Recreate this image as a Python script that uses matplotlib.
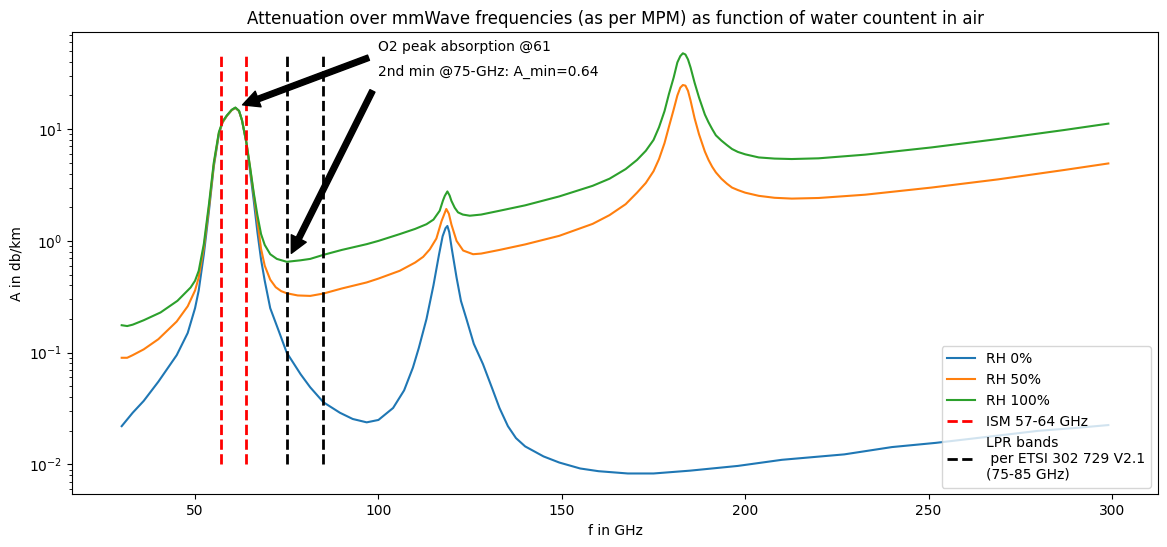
import matplotlib
matplotlib.use("Agg")
import matplotlib.pyplot as plt

# ---- data ----
f_rh0 = [30, 33, 36, 40, 45, 48, 50, 51, 52.4, 53.8, 55.1, 56.5, 57.5, 58.7, 60, 61, 62, 62.8,
         64, 65, 66, 67, 68, 69, 70.5, 72.8, 75, 78.8, 81.4, 85, 89.5, 93, 96.8, 100, 104, 107,
         109.4, 111, 113.1, 115, 116.5, 117.5, 118.3, 118.8, 119.3, 120, 121.3, 122.5, 124, 126,
         128.5, 131, 133, 135.3, 137.5, 140, 145, 149.3, 155, 160, 168, 175, 185, 198, 210, 227,
         240, 252, 265, 280, 290, 299]
a_rh0 = [0.022, 0.029, 0.037, 0.055, 0.095, 0.15, 0.25, 0.36, 0.76, 1.86, 4.6, 9.0, 11.5, 13.2,
         14.8, 15.5, 14.5, 12.0, 7.5, 4.2, 2.3, 1.2, 0.68, 0.44, 0.25, 0.157, 0.1, 0.064, 0.049,
         0.036, 0.029, 0.0255, 0.0238, 0.025, 0.032, 0.046, 0.0735, 0.11, 0.2, 0.40, 0.75, 1.1,
         1.3, 1.36, 1.2, 0.85, 0.47, 0.29, 0.2, 0.12, 0.079, 0.048, 0.032, 0.022, 0.0172, 0.0145,
         0.0118, 0.0104, 0.0092, 0.0087, 0.0083, 0.0083, 0.0088, 0.0097, 0.011, 0.0123, 0.0143,
         0.0156, 0.0175, 0.020, 0.0212, 0.0225]

f_rh50 = [30, 31.5, 33, 36, 40, 45, 48, 50, 51, 52.4, 53.8, 55.1, 56.5, 57.5, 58.7, 60, 61, 62,
          62.8, 64, 65, 66, 67, 68, 69, 70.5, 72, 73.5, 75, 78, 81.4, 85, 90, 96.8, 100, 105.8,
          110, 112.2, 114, 115.8, 117.2, 118.5, 119.2, 119.9, 121.3, 123.1, 125.8, 128, 133, 140,
          149.3, 158.4, 163, 167.4, 170.5, 172.9, 175, 176.5, 178, 179.2, 180.5, 181.5, 182.3,
          183, 183.7, 184.4, 185.1, 186.2, 187.4, 189, 190, 191, 192, 193.5, 195, 196.4, 198, 200,
          203.7, 208, 212.7, 220, 232.7, 250.8, 268.9, 287, 299]
a_rh50 = [0.090, 0.090, 0.095, 0.107, 0.132, 0.19, 0.26, 0.36, 0.47, 0.87, 2.0, 4.8, 9.2, 11.5,
          13.2, 14.8, 15.5, 14.5, 12.0, 7.6, 4.5, 2.6, 1.5, 0.85, 0.6, 0.45, 0.385, 0.355, 0.34,
          0.325, 0.322, 0.338, 0.375, 0.425, 0.46, 0.54, 0.64, 0.72, 0.84, 1.05, 1.5, 1.93, 1.75,
          1.4, 1.0, 0.82, 0.76, 0.77, 0.83, 0.93, 1.11, 1.42, 1.7, 2.13, 2.7, 3.3, 4.2, 5.4, 7.5,
          10.5, 15, 20, 23.5, 24.8, 24.5, 22, 18, 12.5, 9.0, 6.3, 5.3, 4.6, 4.1, 3.6, 3.25, 3.0,
          2.85, 2.7, 2.53, 2.43, 2.39, 2.42, 2.59, 3.0, 3.55, 4.31, 4.93]

f_rh100 = [30, 31.5, 33, 36, 40.6, 45.2, 48.8, 50, 51, 52.4, 53.8, 55.1, 56.5, 57.5, 58.7, 60, 61,
           62, 62.8, 64, 65, 66, 67, 68, 69, 70.5, 72.3, 75, 78.7, 81.4, 85, 90, 96.8, 100, 105.8,
           110, 113.1, 115, 116.7, 117.6, 118.1, 118.8, 119.4, 119.9, 120.8, 121.7, 123, 124.9,
           128, 133, 140, 149.3, 158.4, 163, 167.4, 170.5, 172.9, 175, 176.5, 178, 179.2, 180.5,
           181.5, 182.3, 183, 183.7, 184.4, 185.1, 186.2, 187.4, 189, 190, 191, 192, 193.5, 195,
           196.4, 198, 200, 203.7, 208, 212.7, 220, 232.7, 250.8, 268.9, 287, 299]
a_rh100 = [0.176, 0.173, 0.178, 0.195, 0.229, 0.291, 0.383, 0.44, 0.54, 0.94, 2.14, 5.0, 9.4,
           11.7, 13.3, 14.9, 15.6, 14.6, 12.0, 7.6, 4.6, 2.7, 1.7, 1.15, 0.92, 0.76, 0.69, 0.65,
           0.67, 0.69, 0.75, 0.83, 0.935, 1.0, 1.15, 1.28, 1.41, 1.55, 1.86, 2.3, 2.53, 2.77, 2.55,
           2.28, 1.98, 1.80, 1.72, 1.68, 1.72, 1.86, 2.08, 2.50, 3.11, 3.6, 4.39, 5.3, 6.4, 8.0,
           10.4, 14.5, 20.6, 29, 39.5, 45, 47.7, 46.5, 42, 35.6, 26, 19.2, 13.5, 11.5, 10.0, 8.8,
           7.9, 7.2, 6.64, 6.25, 5.95, 5.58, 5.45, 5.40, 5.48, 5.91, 6.86, 8.15, 9.82, 11.2]

ism_band = [57, 64]
lpr_band = [75, 85]
vline_bottom = 0.01

o2_peak = (61, 15.6)
o2_text = (100, 50)
min2 = (75, 0.64)
min2_text = (100, 30)

# ---- plot ----
fig = plt.figure(figsize=(11.67, 5.47), dpi=100)
ax = fig.add_axes([0.062, 0.096, 0.930, 0.845])

ax.plot(f_rh0, a_rh0, label="RH 0%")
ax.plot(f_rh50, a_rh50, label="RH 50%")
ax.plot(f_rh100, a_rh100, label="RH 100%")
top = max(a_rh100)
ax.vlines(ism_band, vline_bottom, top, colors="r", linestyles="dashed", linewidth=2,
          label="ISM 57-64 GHz")
ax.vlines(lpr_band, vline_bottom, top, colors="k", linestyles="dashed", linewidth=2,
          label="LPR bands\n per ETSI 302 729 V2.1\n(75-85 GHz)")
ax.set_yscale("log")

ax.annotate("O2 peak absorption @61", xy=o2_peak, xytext=o2_text,
            arrowprops=dict(facecolor="black", shrink=0.05))
ax.annotate("2nd min @75-GHz: A_min=0.64", xy=min2, xytext=min2_text,
            arrowprops=dict(facecolor="black", shrink=0.05))

ax.set_title("Attenuation over mmWave frequencies (as per MPM) as function of water countent in air")
ax.set_xlabel("f in GHz")
ax.set_ylabel("A in db/km")
ax.legend(loc="lower right")

fig.savefig("out.png", dpi=100)
